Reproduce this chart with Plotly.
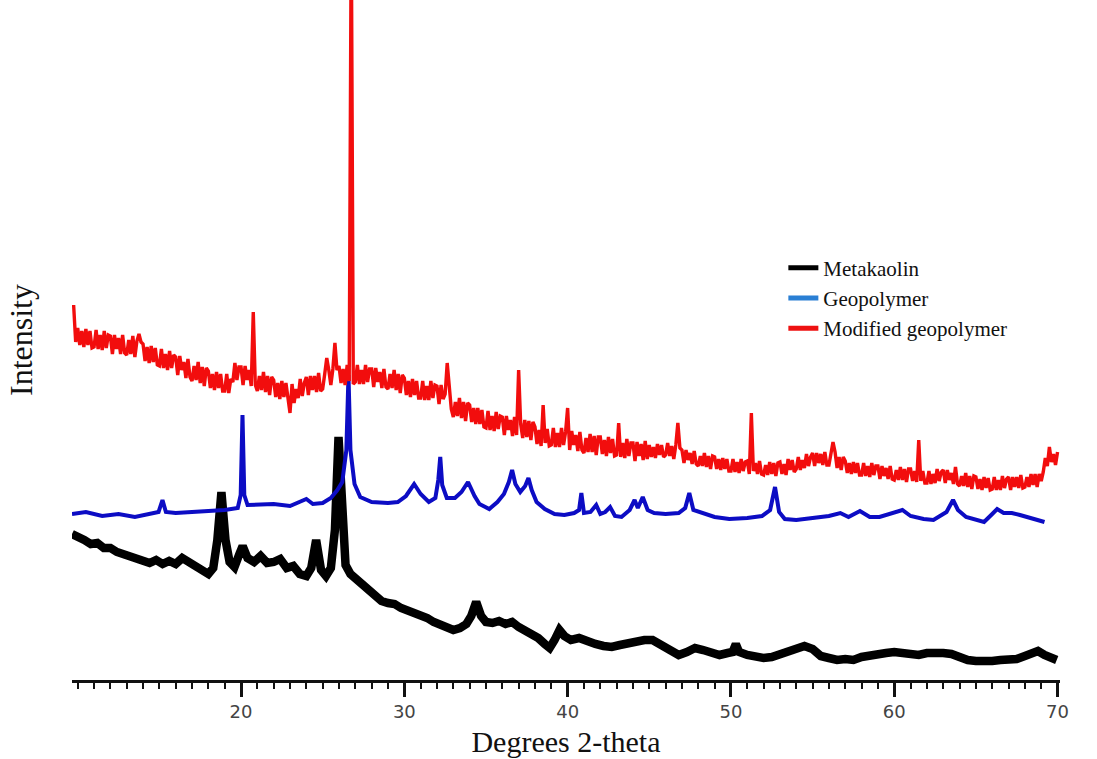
import numpy as np
import plotly.graph_objects as go

# ---- Metakaolin (2-theta, intensity) ----
meta_x = [9.65, 10.0, 10.4, 10.8, 11.2, 11.6, 12.0, 12.4, 12.8, 13.2, 13.6, 14.0, 14.4, 14.8,
          15.2, 15.6, 16.0, 16.4, 16.8, 17.2, 17.6, 18.0, 18.3, 18.55, 18.8, 19.05, 19.3, 19.6,
          19.9, 20.1, 20.4, 20.8, 21.2, 21.6, 22.0, 22.4, 22.8, 23.2, 23.6, 24.0, 24.3, 24.6,
          24.9, 25.2, 25.5, 25.75, 25.97, 26.2, 26.4, 26.7, 27.0, 27.4, 27.8, 28.2, 28.6, 29.0,
          29.4, 29.8, 30.2, 30.6, 31.0, 31.4, 31.8, 32.2, 32.6, 33.0, 33.4, 33.8, 34.1, 34.4,
          34.7, 35.0, 35.4, 35.8, 36.2, 36.6, 37.0, 37.4, 37.8, 38.2, 38.6, 38.9, 39.2, 39.5,
          39.8, 40.2, 40.7, 41.2, 41.7, 42.2, 42.7, 43.2, 43.7, 44.2, 44.7, 45.2, 45.7, 46.2,
          46.8, 47.3, 47.8, 48.3, 48.8, 49.3, 49.8, 50.1, 50.3, 50.5, 51.0, 51.5, 52.0, 52.5,
          53.0, 53.5, 54.0, 54.5, 55.0, 55.5, 56.0, 56.5, 57.0, 57.5, 58.0, 58.5, 59.0, 59.5,
          60.0, 60.5, 61.0, 61.5, 62.0, 62.5, 63.0, 63.5, 64.0, 64.5, 65.0, 65.5, 66.0, 66.5,
          67.0, 67.5, 68.0, 68.5, 68.8, 69.2, 69.6, 69.95]
meta_y = [146, 142, 140, 136, 137, 132, 132, 128, 126, 124, 122, 118, 117, 120,
          116, 119, 116, 122, 118, 113, 108, 106, 112, 140, 188, 140, 118, 113,
          126, 134, 122, 118, 124, 117, 118, 121, 112, 114, 106, 104, 112, 140,
          110, 104, 112, 150, 243, 150, 115, 106, 102, 96, 90, 84, 79, 77,
          76, 72, 70, 68, 64, 62, 58, 55, 52, 50, 52, 56, 64, 78,
          64, 58, 57, 59, 56, 58, 53, 50, 46, 42, 36, 32, 40, 50,
          44, 40, 42, 38, 36, 34, 33, 35, 37, 38, 40, 40, 35, 30,
          25, 28, 32, 30, 27, 25, 27, 28, 36, 28, 25, 23, 22, 23,
          26, 29, 32, 34, 31, 24, 22, 20, 21, 20, 23, 25, 26, 27,
          28, 27, 26, 25, 27, 28, 27, 26, 22, 20, 19, 18, 19, 20,
          20, 21, 24, 28, 29, 25, 22, 20]

# ---- Geopolymer ----
geo_x = [9.65, 10.5, 11.5, 12.5, 13.5, 14.5, 14.95, 15.19, 15.4, 16.0, 17.0, 18.0, 19.0, 19.8,
         19.98, 20.09, 20.2, 20.4, 21.0, 22.0, 23.0, 23.6, 24.0, 24.4, 25.0, 25.5, 25.9, 26.2,
         26.45, 26.58, 26.7, 26.95, 27.3, 28.0, 29.0, 29.6, 30.1, 30.6, 31.0, 31.5, 31.9, 32.08,
         32.2, 32.32, 32.6, 33.1, 33.5, 33.9, 34.3, 34.6, 35.2, 35.7, 36.1, 36.4, 36.6, 36.8,
         37.1, 37.4, 37.6, 37.8, 38.1, 38.6, 39.2, 39.8, 40.4, 40.7, 40.84, 41.0, 41.4, 41.75,
         42.0, 42.3, 42.6, 42.9, 43.3, 43.8, 44.1, 44.3, 44.6, 44.9, 45.3, 46.0, 46.8, 47.2,
         47.45, 47.7, 48.2, 49.0, 49.9, 51.0, 51.9, 52.4, 52.7, 52.95, 53.3, 54.0, 55.0, 55.5,
         56.0, 56.7, 57.2, 57.9, 58.5, 59.1, 59.7, 60.5, 61.0, 61.8, 62.4, 63.2, 63.6, 63.9,
         64.4, 65.0, 65.5, 66.0, 66.3, 66.7, 67.2, 67.7, 68.2, 68.7, 69.2]
geo_y = [166, 168, 164, 166, 163, 166, 168, 180, 168, 167, 168, 170, 170, 172,
         185, 265, 185, 175, 175, 176, 174, 178, 181, 176, 177, 182, 190, 198,
         230, 305, 230, 196, 183, 178, 177, 178, 184, 196, 186, 178, 182, 200,
         223, 195, 182, 182, 188, 198, 184, 176, 171, 178, 186, 198, 210, 196,
         188, 194, 202, 190, 178, 171, 166, 165, 167, 170, 187, 167, 168, 175,
         166, 168, 173, 164, 163, 170, 180, 172, 183, 170, 167, 166, 167, 172,
         187, 170, 167, 163, 161, 162, 164, 170, 193, 168, 161, 160, 162, 163,
         164, 167, 163, 169, 163, 163, 166, 170, 164, 161, 160, 168, 180, 170,
         163, 160, 158, 166, 171, 167, 167, 165, 163, 160, 158]

# ---- Modified geopolymer, sampled every 0.125 degree from 9.75 ----
mod_start, mod_step = 9.75, 0.125
mod_y = [375, 338,
         352, 335, 349, 333, 351, 335, 349, 332,   # 10
         333, 350, 331, 345, 330, 349, 332, 345,   # 11
         344, 326, 345, 331, 342, 326, 345, 327,   # 12
         325, 340, 326, 344, 323, 339, 346, 338,   # 13
         336, 319, 333, 317, 334, 318, 332, 315,   # 14
         314, 331, 312, 326, 310, 329, 312, 325,   # 15
         323, 305, 324, 310, 318, 302, 321, 303,   # 16
         299, 314, 300, 318, 297, 313, 294, 312,   # 17
         309, 292, 306, 290, 308, 292, 306, 289,   # 18
         289, 306, 287, 301, 298, 317, 300, 313,   # 19
         313, 295, 314, 300, 310, 294, 368, 295,   # 20
         289, 304, 290, 308, 288, 304, 285, 303,   # 21
         300, 283, 297, 281, 299, 283, 297, 280,   # 22
         267, 296, 277, 291, 282, 301, 284, 297,   # 23
         303, 285, 304, 290, 304, 288, 307, 289,   # 24
         291, 306, 322, 310, 295, 311, 337, 310,   # 25
         314, 297, 311, 295, 315, 299, 760, 296,   # 26
         298, 315, 296, 310, 296, 315, 298, 311,   # 27
         311, 293, 312, 298, 308, 292, 311, 293,   # 28
         291, 306, 292, 310, 290, 306, 287, 305,   # 29
         302, 285, 299, 283, 301, 285, 299, 282,   # 30
         282, 299, 280, 294, 280, 299, 282, 295,   # 31
         294, 276, 295, 281, 286, 317, 289, 271,   # 32
         263, 278, 264, 282, 262, 278, 259, 277,   # 33
         275, 258, 272, 256, 272, 256, 270, 253,   # 34
         252, 269, 250, 264, 249, 268, 251, 264,   # 35
         263, 245, 264, 250, 260, 244, 263, 245,   # 36
         310, 256, 242, 260, 243, 259, 240, 258,   # 37
         253, 236, 250, 234, 275, 237, 251, 234,   # 38
         235, 252, 233, 247, 233, 252, 235, 248,   # 39
         272, 230, 249, 235, 245, 229, 248, 230,   # 40
         227, 242, 228, 246, 228, 244, 225, 243,   # 41
         243, 226, 240, 224, 243, 227, 241, 224,   # 42
         225, 257, 223, 237, 222, 241, 224, 237,   # 43
         237, 219, 238, 224, 236, 220, 239, 221,   # 44
         235, 223, 233, 222, 236, 225, 235, 223,   # 45
         225, 237, 224, 234, 221, 235, 257, 232,   # 46
         230, 217, 230, 220, 227, 216, 229, 216,   # 47
         214, 224, 214, 227, 213, 224, 211, 224,   # 48
         223, 211, 221, 210, 222, 211, 221, 209,   # 49
         209, 221, 208, 218, 207, 221, 209, 218,   # 50
         219, 206, 267, 209, 217, 206, 219, 206,   # 51
         205, 215, 205, 218, 206, 217, 204, 217,   # 52
         218, 206, 216, 205, 221, 210, 220, 208,   # 53
         211, 223, 210, 220, 212, 226, 214, 223,   # 54
         227, 214, 227, 217, 226, 215, 228, 215,   # 55
         215, 225, 238, 228, 212, 223, 210, 223,   # 56
         219, 207, 217, 206, 218, 207, 217, 205,   # 57
         205, 217, 204, 214, 203, 217, 205, 214,   # 58
         214, 201, 214, 204, 212, 201, 214, 201,   # 59
         200, 210, 200, 213, 200, 211, 198, 211,   # 60
         211, 199, 209, 198, 240, 199, 209, 197,   # 61
         197, 209, 196, 206, 197, 211, 199, 208,   # 62
         210, 197, 210, 200, 207, 196, 213, 196,   # 63
         194, 204, 194, 207, 193, 204, 191, 204,   # 64
         203, 191, 201, 190, 203, 192, 202, 190,   # 65
         191, 203, 190, 200, 190, 204, 192, 201,   # 66
         203, 190, 203, 193, 203, 192, 205, 192,   # 67
         193, 203, 193, 206, 195, 206, 193, 206,   # 68
         199, 208, 222, 214, 233, 218, 226, 215,   # 69
         228]
mod_x = mod_start + mod_step * np.arange(len(mod_y))

series_names = ["Metakaolin", "Geopolymer", "Modified geopolymer"]
x_ticks = [20, 30, 40, 50, 60, 70]
x_tick_text = ["20", "30", "40", "50", "60", "70"]

fig = go.Figure()
fig.add_trace(go.Scatter(x=meta_x, y=meta_y, mode="lines", showlegend=False,
                         line=dict(color="#000000", width=8.5), name=series_names[0]))
fig.add_trace(go.Scatter(x=geo_x, y=geo_y, mode="lines", showlegend=False,
                         line=dict(color="#0c0cc4", width=4), name=series_names[1]))
fig.add_trace(go.Scatter(x=mod_x, y=mod_y, mode="lines", showlegend=False,
                         line=dict(color="#f20d0d", width=3.4), name=series_names[2]))

# legend keys
for name, col in zip(series_names, ["#000000", "#2a7fd4", "#ee1111"]):
    fig.add_trace(go.Scatter(x=[None], y=[None], mode="lines", name=name,
                             line=dict(color=col, width=5)))

serif = "Liberation Serif, Times New Roman, serif"
fig.update_layout(
    width=1097, height=759,
    margin=dict(l=72, r=37, t=0, b=79),
    paper_bgcolor="white", plot_bgcolor="white",
    showlegend=True,
    legend=dict(x=0.72, y=0.636, xanchor="left", yanchor="top",
                font=dict(family=serif, size=21, color="#111"),
                bgcolor="rgba(0,0,0,0)", tracegroupgap=0),
    xaxis=dict(range=[9.65, 70.15], tickvals=x_ticks, ticktext=x_tick_text,
               showgrid=False, zeroline=False,
               showline=True, linecolor="#111", linewidth=2.5,
               ticks="outside", ticklen=14, tickwidth=2.5, tickcolor="#111",
               minor=dict(dtick=1, tick0=10, ticks="outside", ticklen=6,
                          tickwidth=2, tickcolor="#111", showgrid=False),
               tickfont=dict(family="DejaVu Sans", size=18, color="#444"),
               title=dict(text="Degrees 2-theta", standoff=10,
                          font=dict(family=serif, size=30, color="#111"))),
    yaxis=dict(range=[0, 680], showgrid=False, zeroline=False, showline=False,
               showticklabels=False, ticks="",
               title=dict(text="Intensity", standoff=28,
                          font=dict(family=serif, size=32, color="#111"))),
)

fig.write_html("out.html")
